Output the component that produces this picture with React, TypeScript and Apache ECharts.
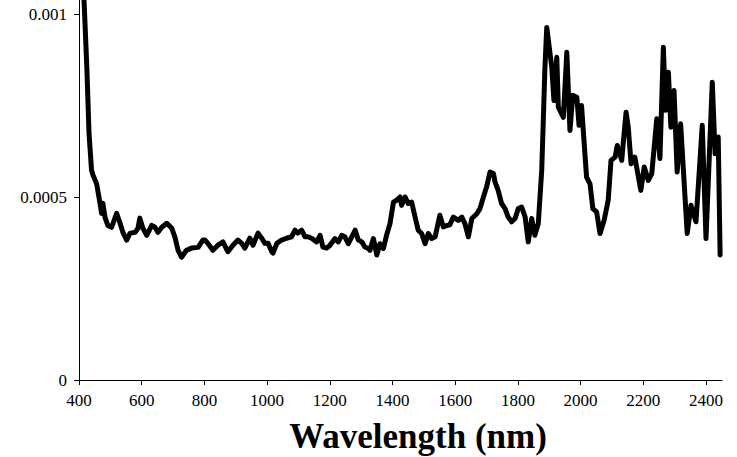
import React, { useEffect, useRef } from "react";
import * as echarts from "echarts";

const wavelengths = [
  400, 410, 416, 425, 432, 440, 445, 456, 467, 472, 476, 483, 492, 504, 520, 531, 540, 552, 563, 579,
  588, 594, 604, 616, 632, 642, 652, 664, 680, 696, 706, 716, 727, 743, 759, 780, 795, 802, 811, 827,
  843, 859, 875, 891, 907, 919, 929, 945, 955, 971, 983, 993, 1003, 1015, 1019, 1031, 1046, 1062, 1078, 1089,
  1098, 1110, 1121, 1130, 1142, 1158, 1169, 1178, 1190, 1200, 1216, 1227, 1238, 1248, 1259, 1270, 1281, 1291, 1302, 1312,
  1323, 1328, 1339, 1350, 1360, 1371, 1381, 1392, 1403, 1413, 1424, 1429, 1440, 1450, 1461, 1472, 1482, 1493, 1504, 1514,
  1525, 1536, 1551, 1562, 1573, 1583, 1594, 1610, 1621, 1631, 1642, 1653, 1669, 1679, 1690, 1700, 1711, 1722, 1727, 1737,
  1748, 1759, 1769, 1780, 1791, 1801, 1812, 1823, 1833, 1844, 1854, 1865, 1876, 1881, 1886, 1892, 1908, 1915, 1924, 1929,
  1945, 1956, 1966, 1975, 1988, 1995, 2003, 2019, 2030, 2039, 2051, 2062, 2075, 2088, 2097, 2110, 2117, 2131, 2145, 2152,
  2161, 2173, 2192, 2203, 2216, 2227, 2243, 2253, 2264, 2271, 2280, 2288, 2298, 2308, 2319, 2340, 2352, 2368, 2388, 2400,
  2420, 2429, 2439, 2445,
];

const absorbance = [
  0.0015, 0.0012, 0.00104, 0.000855, 0.000675, 0.000574, 0.00056, 0.000538, 0.000484, 0.000456, 0.000484, 0.000445, 0.000423, 0.000418, 0.000456, 0.000429, 0.000404, 0.000383, 0.000402, 0.000404,
  0.000415, 0.000443, 0.000415, 0.000396, 0.000423, 0.000418, 0.000404, 0.000418, 0.000429, 0.000415, 0.000391, 0.000355, 0.000336, 0.000355, 0.000361, 0.000363, 0.000383, 0.000383, 0.000374, 0.000355,
  0.000369, 0.000378, 0.000351, 0.000369, 0.000383, 0.000374, 0.000361, 0.000388, 0.000369, 0.000402, 0.000388, 0.000374, 0.000374, 0.000351, 0.000347, 0.000374, 0.000383, 0.000388, 0.000392, 0.00041,
  0.000402, 0.00041, 0.000392, 0.000392, 0.000388, 0.000378, 0.000396, 0.000364, 0.000361, 0.000368, 0.000387, 0.000378, 0.000396, 0.000392, 0.000373, 0.000392, 0.00041, 0.000383, 0.000378, 0.000364,
  0.00036, 0.000355, 0.000387, 0.000342, 0.000373, 0.00036, 0.000396, 0.000428, 0.000487, 0.000492, 0.000501, 0.000478, 0.000501, 0.000483, 0.000487, 0.000446, 0.00041, 0.000401, 0.000373, 0.000401,
  0.000387, 0.000392, 0.000451, 0.000419, 0.000423, 0.000425, 0.000446, 0.000437, 0.000446, 0.000428, 0.000392, 0.000442, 0.000455, 0.000469, 0.000501, 0.000528, 0.000569, 0.000565, 0.000542, 0.000519,
  0.000483, 0.000469, 0.000446, 0.000433, 0.000442, 0.000469, 0.000473, 0.000446, 0.000378, 0.000442, 0.000396, 0.000428, 0.000574, 0.00071, 0.00085, 0.000965, 0.000856, 0.000765, 0.000883, 0.000747,
  0.000719, 0.000897, 0.000683, 0.000779, 0.000774, 0.000697, 0.000751, 0.000555, 0.000537, 0.000469, 0.00046, 0.000401, 0.000437, 0.000492, 0.000601, 0.00061, 0.000642, 0.000601, 0.000733, 0.000692,
  0.000592, 0.00061, 0.000519, 0.000583, 0.000546, 0.000565, 0.000715, 0.000606, 0.000911, 0.000738, 0.000842, 0.000692, 0.000792, 0.000569, 0.000701, 0.000401, 0.000478, 0.000433, 0.000697, 0.000387,
  0.000815, 0.000619, 0.000665, 0.000342,
];

const xTickValues = [400, 600, 800, 1000, 1200, 1400, 1600, 1800, 2000, 2200, 2400];
const yTickValues = [0, 0.0005, 0.001];
const xAxisTitle = "Wavelength (nm)";

const FONT = "'Liberation Serif', 'Times New Roman', serif";

export default function App() {
  const ref = useRef<HTMLDivElement>(null);

  useEffect(() => {
    if (!ref.current) return;
    const chart = echarts.init(ref.current, undefined, { renderer: "svg" });
    const data = wavelengths.map((w, i) => [w, absorbance[i]]);
    chart.setOption({
      animation: false,
      backgroundColor: "#ffffff",
      title: {
        text: xAxisTitle,
        left: 413,
        top: 414,
        textAlign: "center",
        textStyle: {
          fontFamily: FONT,
          fontWeight: "bold",
          fontSize: 35,
          color: "#000",
        },
      },
      grid: { left: 79, right: 15, top: 0, bottom: 77, containLabel: false },
      xAxis: {
        type: "value",
        min: 400,
        max: 2451,
        splitLine: { show: false },
        axisLine: { show: true, onZero: false, lineStyle: { color: "#000", width: 1 } },
        axisTick: { show: true, length: 5, lineStyle: { color: "#000" }, customValues: xTickValues },
        axisLabel: {
          customValues: xTickValues,
          margin: 12,
          fontFamily: FONT,
          fontSize: 17,
          color: "#000",
          formatter: (v: number) => String(v),
        },
      },
      yAxis: {
        type: "value",
        min: 0,
        max: 0.00104,
        splitLine: { show: false },
        axisLine: { show: true, lineStyle: { color: "#000", width: 1 } },
        axisTick: { show: true, length: 5, lineStyle: { color: "#000" }, customValues: yTickValues },
        axisLabel: {
          customValues: yTickValues,
          margin: 12,
          fontFamily: FONT,
          fontSize: 17,
          color: "#000",
          formatter: (v: number) => (v === 0 ? "0" : String(v)),
        },
      },
      series: [
        {
          type: "line",
          data,
          showSymbol: false,
          symbol: "none",
          clip: true,
          lineStyle: { color: "#000", width: 5, cap: "round", join: "round" },
        },
      ],
    });
    return () => chart.dispose();
  }, []);

  return (
    <div
      ref={ref}
      style={{ position: "fixed", left: 0, top: 0, width: 737, height: 457, background: "#fff" }}
    />
  );
}
